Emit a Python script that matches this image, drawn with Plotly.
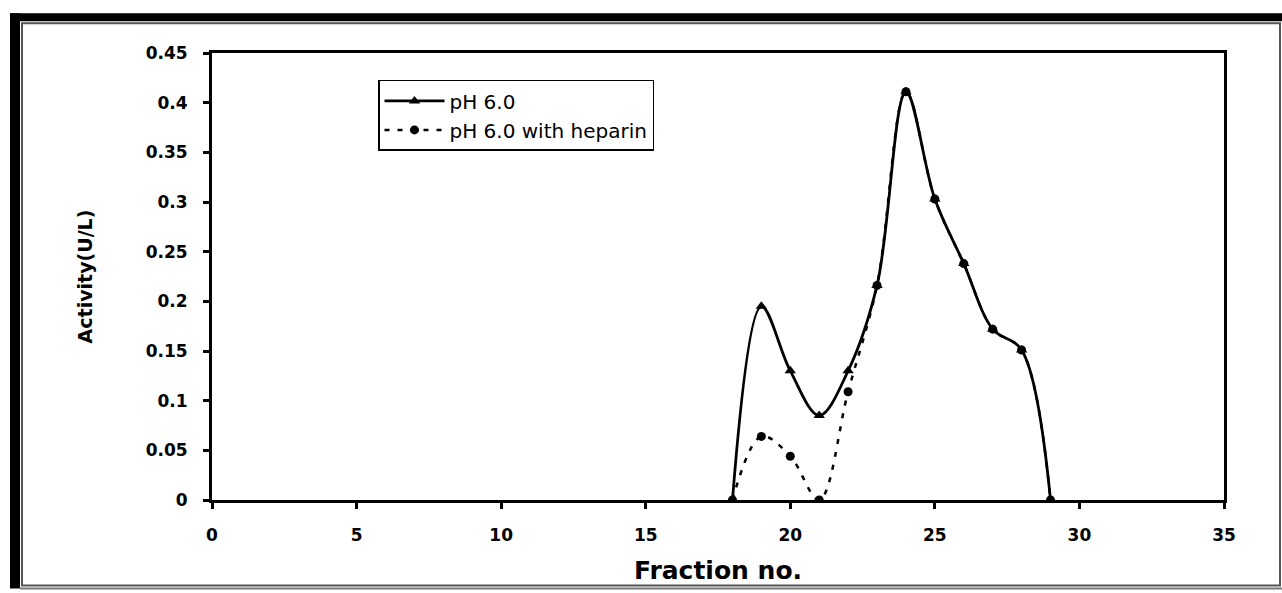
import plotly.graph_objects as go

# Fraction numbers and enzyme activity (U/L)
fractions = [18, 19, 20, 21, 22, 23, 24, 25, 26, 27, 28, 29]
activity_ph6 = [0.0, 0.195, 0.13, 0.085, 0.13, 0.216, 0.411, 0.303, 0.238, 0.172, 0.151, 0.0]
activity_heparin = [0.0, 0.064, 0.044, 0.0, 0.109, 0.216, 0.411, 0.303, 0.238, 0.172, 0.151, 0.0]

x_ticks = [0, 5, 10, 15, 20, 25, 30, 35]
y_ticks = [0, 0.05, 0.1, 0.15, 0.2, 0.25, 0.3, 0.35, 0.4, 0.45]
y_tick_text = ["0", "0.05", "0.1", "0.15", "0.2", "0.25", "0.3", "0.35", "0.4", "0.45"]

W, H = 1282, 593
L, R, T, B = 212, 1224, 53, 502   # plot area in pixels


def px(x):
    return (x - L) / (R - L)


def py(y):
    return (B - y) / (B - T)


fig = go.Figure()

fig.add_trace(go.Scatter(
    x=fractions, y=activity_heparin, name="pH 6.0 with heparin",
    mode="lines+markers", line=dict(color="black", width=2.5, dash="5px,8px", shape="spline"),
    marker=dict(symbol="circle", size=9, color="black"),
))
fig.add_trace(go.Scatter(
    x=fractions, y=activity_ph6, name="pH 6.0",
    mode="lines+markers", line=dict(color="black", width=2.8, shape="spline"),
    marker=dict(symbol="triangle-up", size=10, color="black"),
))

tick_font = dict(family="DejaVu Sans", size=17, color="black", weight="bold")

fig.update_xaxes(
    range=[0, 35], tickvals=x_ticks, ticktext=[str(v) for v in x_ticks],
    showgrid=False, zeroline=False, showline=True, linecolor="black", linewidth=3,
    mirror=True, ticks="outside", ticklen=6, tickwidth=2.5, tickcolor="black",
    tickfont=tick_font, ticklabelstandoff=12,
    title=dict(text="Fraction no.", font=dict(family="DejaVu Sans", size=25, color="black", weight="bold"), standoff=18),
)
fig.update_yaxes(
    range=[0, 0.45], tickvals=y_ticks, ticktext=y_tick_text,
    showgrid=False, zeroline=False, showline=True, linecolor="black", linewidth=3,
    mirror=True, ticks="outside", ticklen=6, tickwidth=2.5, tickcolor="black",
    tickfont=tick_font, ticklabelstandoff=12,
    title=dict(text="Activity(U/L)", font=dict(family="DejaVu Sans", size=19, color="black", weight="bold"), standoff=48),
)

shapes = [
    # heavy black edges along the left and top of the frame
    dict(type="rect", x0=px(10), x1=px(20), y0=py(13), y1=py(591), fillcolor="black", line=dict(width=0)),
    dict(type="rect", x0=px(10), x1=px(1282), y0=py(13), y1=py(21), fillcolor="black", line=dict(width=0)),
    # thin grey frame
    dict(type="rect", x0=px(22), x1=px(1280), y0=py(23), y1=py(588), line=dict(color="#555555", width=2)),
    dict(type="line", x0=px(20), x1=px(1282), y0=py(591), y1=py(591), line=dict(color="#777777", width=2)),
]
for s in shapes:
    s.update(xref="paper", yref="paper", layer="above")

fig.update_layout(
    width=W, height=H,
    margin=dict(l=L, r=W - R, t=T, b=H - B),
    plot_bgcolor="white", paper_bgcolor="white",
    shapes=shapes,
    showlegend=True,
    legend=dict(
        x=px(378), y=py(80), xanchor="left", yanchor="top",
        bgcolor="white", bordercolor="black", borderwidth=1.5,
        font=dict(family="DejaVu Sans", size=20, color="black"),
        traceorder="reversed", itemwidth=60, tracegroupgap=0,
    ),
)

fig.write_html("out.html")
